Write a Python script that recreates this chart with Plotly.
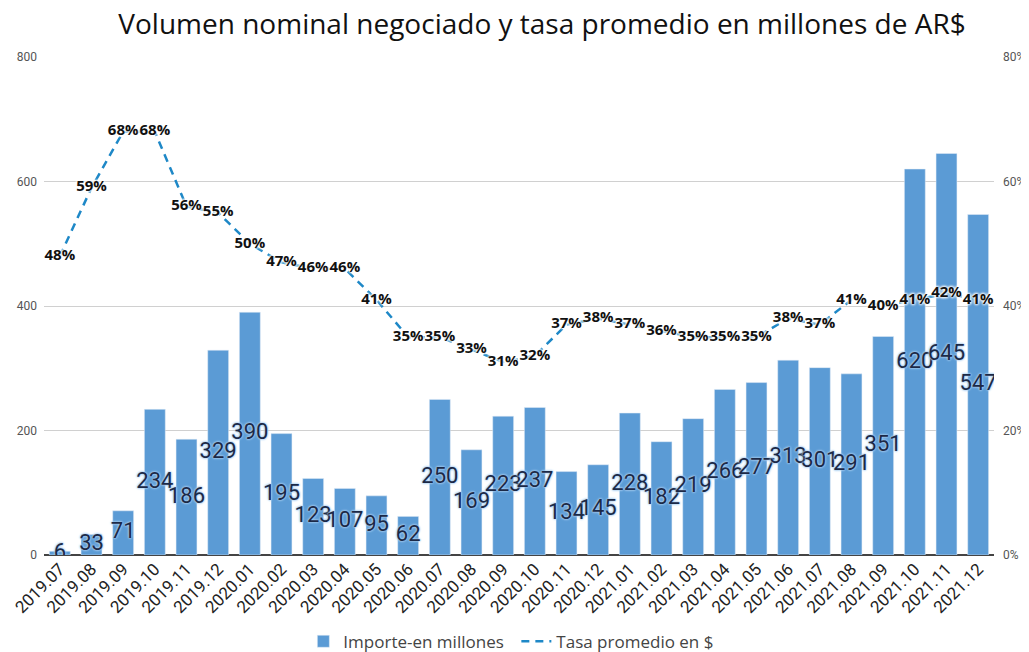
"""
 Volumen nominal negociado y tasa promedio (barras + linea punteada)
"""

from plotly.graph_objects import Bar, Scatter, Figure

# datos
meses = ["2019.07", "2019.08", "2019.09", "2019.10", "2019.11", "2019.12",
         "2020.01", "2020.02", "2020.03", "2020.04", "2020.05", "2020.06",
         "2020.07", "2020.08", "2020.09", "2020.10", "2020.11", "2020.12",
         "2021.01", "2021.02", "2021.03", "2021.04", "2021.05", "2021.06",
         "2021.07", "2021.08", "2021.09", "2021.10", "2021.11", "2021.12"]
importe = [6, 33, 71, 234, 186, 329, 390, 195, 123, 107, 95, 62,
           250, 169, 223, 237, 134, 145, 228, 182, 219, 266, 277, 313,
           301, 291, 351, 620, 645, 547]
tasa = [48, 59, 68, 68, 56, 55, 50, 47, 46, 46, 41, 35,
        35, 33, 31, 32, 37, 38, 37, 36, 35, 35, 35, 38,
        37, 41, 40, 41, 42, 41]

COLOR_BAR = "#5b9bd5"
COLOR_LINE = "#1e88c7"


def main():
    """arma la figura y la escribe en out.html"""
    fig = Figure()

    fig.add_trace(Bar(x=meses, y=importe, name="Importe-en millones",
                      marker_color=COLOR_BAR, hoverinfo="x+y"))

    # etiquetas de las barras, centradas en la barra
    fig.add_trace(Scatter(
        x=meses, y=[v / 2 for v in importe], mode="text",
        text=[str(v) for v in importe], showlegend=False, hoverinfo="skip",
        textfont=dict(family="Roboto", size=22, color="#1b2947",
                      shadow="0 0 2px #a9cdf0, 0 0 2px #a9cdf0, 0 0 3px #a9cdf0")))

    tasa_frac = [t / 100 for t in tasa]
    fig.add_trace(Scatter(
        x=meses, y=tasa_frac, yaxis="y2", name="Tasa promedio en $",
        mode="lines+text", text=[f"{t}%" for t in tasa],
        textposition="middle center",
        line=dict(color=COLOR_LINE, width=2.5, dash="8px,6px"),
        textfont=dict(family="Open Sans", size=15, color="#111111",
                      weight="bold",
                      shadow="0 0 3px white, 0 0 3px white, 0 0 3px white, 0 0 3px white")))

    # la pagina tiene 8px de margen en el body: se compensa en los margenes
    fig.update_layout(
        width=1029, height=652,
        paper_bgcolor="white", plot_bgcolor="white",
        margin=dict(l=36, r=43, t=49, b=105, autoexpand=False),
        bargap=0.34,
        title=dict(text="Volumen nominal negociado y tasa promedio en millones de AR$",
                   x=534 / 1029, xanchor="center", y=1 - 16 / 652, yanchor="middle",
                   font=dict(family="Open Sans", size=28, color="#111111")),
        font=dict(family="Roboto", color="#555555"),
        xaxis=dict(tickangle=-45, tickfont=dict(size=17, color="#222222"),
                   range=[-0.5, len(meses) - 0.5],
                   showgrid=False, ticks="", showline=False, automargin=False),
        yaxis=dict(range=[0, 800], dtick=200, showgrid=True, gridcolor="#d0d0d0",
                   zeroline=True, zerolinecolor="#444444", zerolinewidth=1.5,
                   tickfont=dict(size=12, color="#555555"), ticks="",
                   ticklabelstandoff=6, automargin=False),
        yaxis2=dict(range=[0, 0.8], dtick=0.2, tickformat=".0%", overlaying="y",
                    side="right", showgrid=False, zeroline=False,
                    tickfont=dict(size=12, color="#555555"), ticks="",
                    ticklabelstandoff=8, automargin=False),
        legend=dict(orientation="h", x=0.273, xanchor="left",
                    y=-0.138, yanchor="top",
                    font=dict(family="Open Sans", size=17, color="#444444"),
                    itemwidth=30, entrywidth=168),
        showlegend=True,
    )

    fig.write_html("out.html")


if __name__ == "__main__":
    main()
